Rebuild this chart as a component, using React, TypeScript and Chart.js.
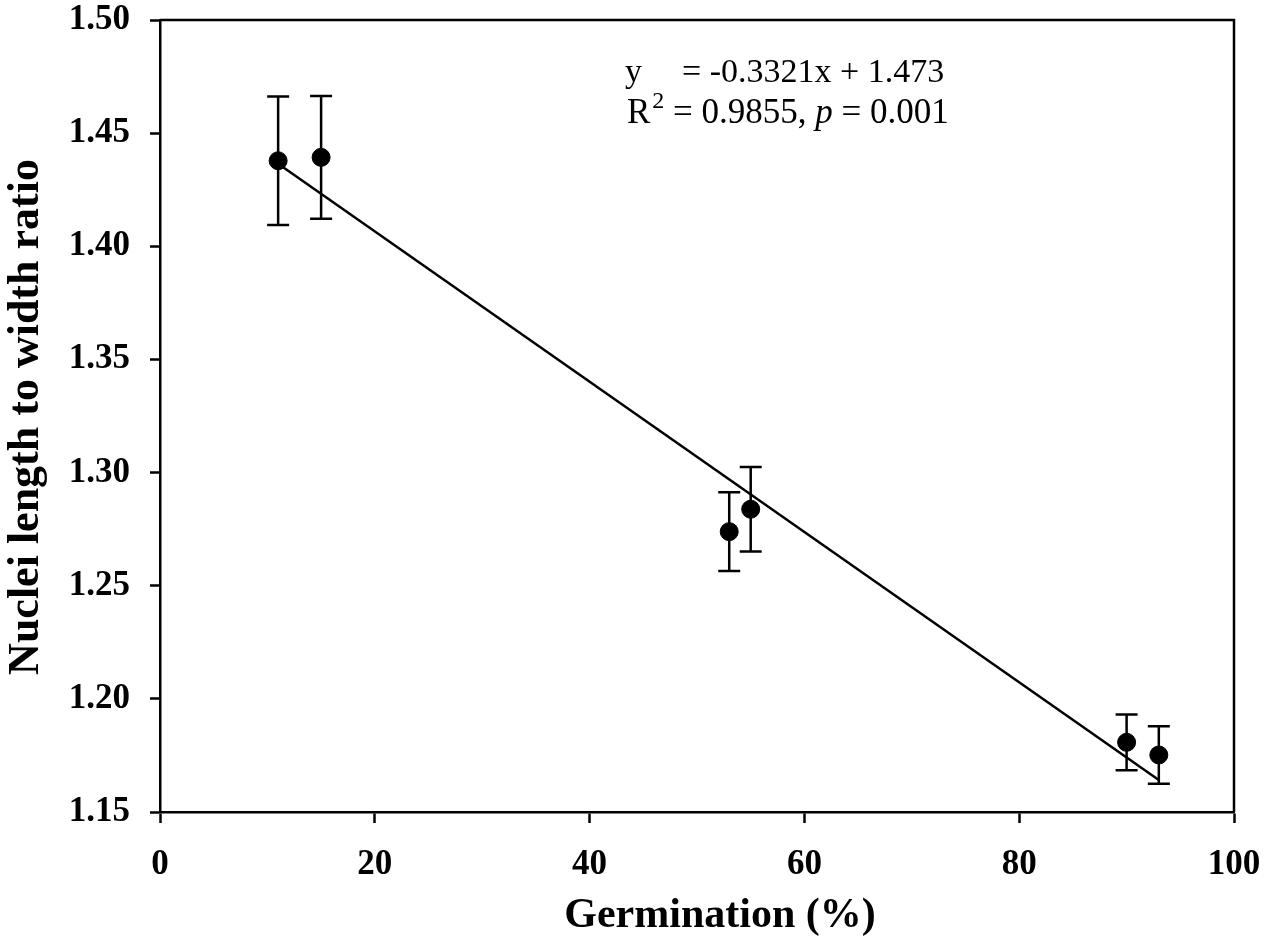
import { useEffect, useRef } from "react"
import { Chart, registerables } from "chart.js"

Chart.register(...registerables)

// ── data ───────────────────────────────────────────────────────
const germination = [11, 15, 53, 55, 90, 93]
const lwRatio = [1.4378, 1.4393, 1.2739, 1.2838, 1.1808, 1.1752]
const lwError = [0.0284, 0.0271, 0.0174, 0.0187, 0.0123, 0.0127]

// fitted line end points (y = -0.3321x + 1.473, x as fraction)
const trendX = [11, 93]
const trendY = [1.4365, 1.1641]

const xTicks = [0, 20, 40, 60, 80, 100]
const yTicks = [1.15, 1.2, 1.25, 1.3, 1.35, 1.4, 1.45, 1.5]

const xTitle = "Germination (%)"
const yTitle = "Nuclei length to width ratio"
const eqLabel = "y"
const eqText = "= -0.3321x + 1.473"
const r2Text = " = 0.9855, "
const pText = " = 0.001"

const SERIF = '"Liberation Serif", "Times New Roman", serif'

// error bars + frame + texts
const decorations = {
  id: "decorations",
  beforeDatasetsDraw(chart: any) {
    const { ctx, scales } = chart
    const x = scales.x
    const y = scales.y
    ctx.save()
    ctx.strokeStyle = "#000"
    ctx.lineWidth = 2.5
    germination.forEach((g, i) => {
      const px = x.getPixelForValue(g)
      const top = y.getPixelForValue(lwRatio[i] + lwError[i])
      const bot = y.getPixelForValue(lwRatio[i] - lwError[i])
      ctx.beginPath()
      ctx.moveTo(px, top)
      ctx.lineTo(px, bot)
      ctx.moveTo(px - 11, top)
      ctx.lineTo(px + 11, top)
      ctx.moveTo(px - 11, bot)
      ctx.lineTo(px + 11, bot)
      ctx.stroke()
    })
    ctx.restore()
  },
  afterDraw(chart: any) {
    const { ctx, chartArea } = chart
    const { left, top, right, bottom } = chartArea
    ctx.save()
    ctx.strokeStyle = "#000"
    ctx.lineWidth = 2.5
    ctx.beginPath()
    ctx.moveTo(left, top)
    ctx.lineTo(right, top)
    ctx.lineTo(right, bottom)
    ctx.stroke()

    ctx.fillStyle = "#000"
    // equation
    ctx.textAlign = "left"
    ctx.textBaseline = "alphabetic"
    ctx.font = `34px ${SERIF}`
    const ex = left + 465
    ctx.fillText(eqLabel, ex, top + 62)
    ctx.fillText(eqText, ex + 57, top + 62)

    let cx = ex + 2
    const by = top + 103
    ctx.font = `35px ${SERIF}`
    ctx.fillText("R", cx, by)
    cx += ctx.measureText("R").width + 2
    ctx.font = `24px ${SERIF}`
    ctx.fillText("2", cx, by - 15)
    cx += ctx.measureText("2").width
    ctx.font = `35px ${SERIF}`
    ctx.fillText(r2Text, cx, by)
    cx += ctx.measureText(r2Text).width
    ctx.font = `italic 35px ${SERIF}`
    ctx.fillText("p", cx, by)
    cx += ctx.measureText("p").width
    ctx.font = `35px ${SERIF}`
    ctx.fillText(pText, cx, by)

    // axis titles
    ctx.font = `bold 42px ${SERIF}`
    ctx.textAlign = "center"
    ctx.fillText(xTitle, 720, 927)

    ctx.translate(27, (top + bottom) / 2 + 1)
    ctx.rotate(-Math.PI / 2)
    ctx.font = `bold 44px ${SERIF}`
    ctx.textBaseline = "middle"
    ctx.fillText(yTitle, 0, 0)
    ctx.restore()
  },
}

export default function App() {
  const canvasRef = useRef<HTMLCanvasElement>(null)

  useEffect(() => {
    const canvas = canvasRef.current
    if (!canvas) return

    const tickFont = { family: SERIF, size: 35, weight: "bold" as const, lineHeight: 1 }

    const chart = new Chart(canvas, {
      type: "scatter",
      data: {
        datasets: [
          {
            type: "line",
            label: "fit",
            data: trendX.map((v, i) => ({ x: v, y: trendY[i] })),
            borderColor: "#000",
            borderWidth: 2.5,
            pointRadius: 0,
            fill: false,
          },
          {
            type: "scatter",
            label: "L/W",
            data: germination.map((v, i) => ({ x: v, y: lwRatio[i] })),
            backgroundColor: "#000",
            borderColor: "#000",
            pointRadius: 9,
            pointHoverRadius: 9,
          },
        ],
      },
      options: {
        animation: false,
        responsive: false,
        events: [],
        layout: { padding: { top: 20, right: 33, left: 0, bottom: 0 } },
        plugins: {
          legend: { display: false },
          tooltip: { enabled: false },
        },
        scales: {
          x: {
            type: "linear",
            min: 0,
            max: 100,
            afterBuildTicks: (scale: any) => {
              scale.ticks = xTicks.map((v) => ({ value: v }))
            },
            afterFit: (scale: any) => {
              scale.height = 133
              scale.paddingLeft = 0
              scale.paddingRight = 0
            },
            ticks: { color: "#000", font: tickFont, padding: 24, maxRotation: 0 },
            grid: {
              drawOnChartArea: false,
              drawTicks: true,
              tickLength: 11,
              tickWidth: 2.5,
              tickColor: "#000",
            },
            border: { display: true, color: "#000", width: 2.5 },
          },
          y: {
            type: "linear",
            min: 1.15,
            max: 1.5,
            afterBuildTicks: (scale: any) => {
              scale.ticks = yTicks.map((v) => ({ value: v }))
            },
            afterFit: (scale: any) => {
              scale.width = 160
              scale.paddingTop = 0
              scale.paddingBottom = 0
            },
            ticks: {
              color: "#000",
              font: tickFont,
              padding: 20,
              callback: (v: any) => Number(v).toFixed(2),
            },
            grid: {
              drawOnChartArea: false,
              drawTicks: true,
              tickLength: 10,
              tickWidth: 2.5,
              tickColor: "#000",
            },
            border: { display: true, color: "#000", width: 2.5 },
          },
        },
      },
      plugins: [decorations],
    })

    return () => {
      chart.destroy()
    }
  }, [])

  return (
    <div style={{ position: "absolute", left: 0, top: 0, width: 1267, height: 945, background: "#fff" }}>
      <canvas ref={canvasRef} width={1267} height={945} style={{ width: 1267, height: 945 }} />
    </div>
  )
}
